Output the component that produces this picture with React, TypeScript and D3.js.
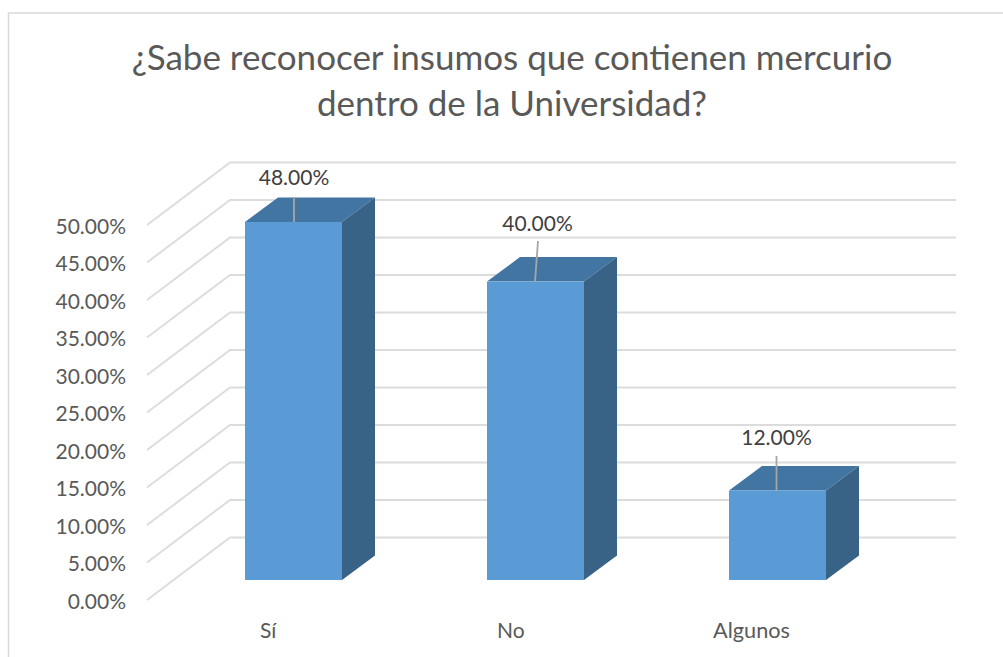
import React from "react";
import * as d3 from "d3";

const titleLines = ["¿Sabe reconocer insumos que contienen mercurio", "dentro de la Universidad?"];
const categories = ["Sí", "No", "Algunos"];
const values = [48, 40, 12];
const valueLabels = ["48.00%", "40.00%", "12.00%"];
const ticks = [0, 5, 10, 15, 20, 25, 30, 35, 40, 45, 50];

const FONT = "Lato, 'Open Sans', sans-serif";
const GRID = "#dcdcdc";
const TEXT = "#595959";

const frontY = d3.scaleLinear().domain([0, 50]).range([600, 225]);
const barY = d3.scaleLinear().domain([0, 50]).range([580, 207]);
const wall = { dx: 83, dy: -62.5, left: 147, right: 956 };
const bar = { dx: 33, dy: -24.5, w: 97 };
const barLeft = [245, 487, 729];
const catLeft = [260, 497, 713];
const leaders = [
  { x1: 294, y1: 197, x2: 294, y2: 222, lx: 294, ly: 185 },
  { x1: 538, y1: 241, x2: 535, y2: 282, lx: 537.5, ly: 231 },
  { x1: 776.5, y1: 456, x2: 776.5, y2: 491, lx: 776.5, ly: 445 },
];

export default function App() {
  const line = d3.line();
  return (
    <svg width={1003} height={657} style={{ position: "absolute", left: 0, top: 0, background: "#fff" }} fontFamily={FONT}>
      <path d="M8.5,657V13H1003" fill="none" stroke="#d9d9d9" strokeWidth={1.5} />
      {titleLines.map((t, i) => (
        <text key={t} x={512} y={70 + i * 46} textAnchor="middle" fontSize={35} fill={TEXT}>{t}</text>
      ))}
      {ticks.map((t) => {
        const y = frontY(t);
        return (
          <g key={t}>
            <path d={line([[wall.left, y], [wall.left + wall.dx, y + wall.dy], [wall.right, y + wall.dy]])!} fill="none" stroke={GRID} strokeWidth={1.9} />
            <text x={126} y={y + 8.5} textAnchor="end" fontSize={21} fill={TEXT}>{t.toFixed(2)}%</text>
          </g>
        );
      })}
      {categories.map((c, i) => {
        const l = barLeft[i];
        const r = l + bar.w;
        const b = barY(0);
        const tp = barY(values[i]);
        return (
          <g key={c}>
            <path d={line([[l, tp], [l + bar.dx, tp + bar.dy], [r + bar.dx, tp + bar.dy], [r, tp]])! + "Z"} fill="#4375a3" />
            <path d={line([[r, tp], [r + bar.dx, tp + bar.dy], [r + bar.dx, b + bar.dy], [r, b]])! + "Z"} fill="#386387" />
            <rect x={l} y={tp} width={bar.w} height={b - tp} fill="#5b9bd5" />
            <line x1={leaders[i].x1} y1={leaders[i].y1} x2={leaders[i].x2} y2={leaders[i].y2} stroke="#a6a6a6" strokeWidth={1.8} />
            <text x={leaders[i].lx} y={leaders[i].ly} textAnchor="middle" fontSize={21} fill="#404040">{valueLabels[i]}</text>
            <text x={catLeft[i]} y={638} fontSize={i === 2 ? 21.7 : 21} fill={TEXT}>{c}</text>
          </g>
        );
      })}
    </svg>
  );
}
